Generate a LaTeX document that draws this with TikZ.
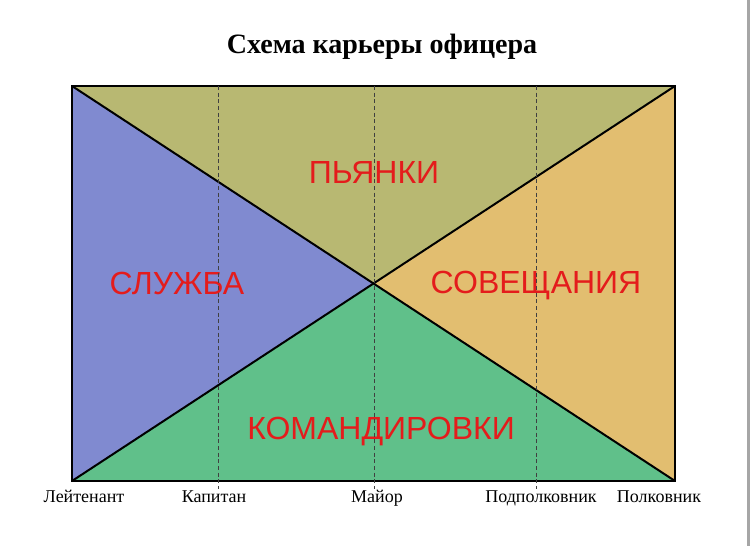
\documentclass[tikz,border=0pt]{standalone}
\usepackage{fontspec}
\setmainfont{Liberation Serif}
\newfontfamily\labelfont{Liberation Sans}
\usepackage{tikz}

\definecolor{sluzhba}{RGB}{128,138,208}
\definecolor{pyanki}{RGB}{184,184,114}
\definecolor{soveshch}{RGB}{226,190,112}
\definecolor{komand}{RGB}{96,192,138}
\definecolor{redtext}{RGB}{228,28,28}

\begin{document}
\begin{tikzpicture}[x=0.75pt,y=-0.75pt,
	area/.style={font=\labelfont\fontsize{24}{26}\selectfont,text=redtext,anchor=base,inner sep=0pt},
	rank/.style={font=\fontsize{13.5}{15}\selectfont,anchor=base,inner sep=0pt},
	grid/.style={densely dashed,very thin,black!75}]
	\useasboundingbox (0,0) rectangle (750,546);
	\fill[white] (0,0) rectangle (750,546);
	\fill[black!35] (747,0) rectangle (750,546);
	\coordinate (TL) at (72,86);
	\coordinate (TR) at (675,86);
	\coordinate (BL) at (72,481);
	\coordinate (BR) at (675,481);
	\coordinate (M) at (374,284);
	\fill [sluzhba] (TL) -- (M) -- (BL) -- cycle;
	\fill [pyanki] (TL) -- (TR) -- (M) -- cycle;
	\fill [soveshch] (TR) -- (BR) -- (M) -- cycle;
	\fill [komand] (BL) -- (M) -- (BR) -- cycle;
	\draw [line width=1.5pt] (TL) -- (BR);
	\draw [line width=1.5pt] (BL) -- (TR);
	\draw [line width=1.5pt] (TL) rectangle (BR);
	\node (title) at (382,53) [anchor=base,font=\bfseries\fontsize{21}{23}\selectfont] {Схема карьеры офицера};
	\node [area] (P) at (374,183) {ПЬЯНКИ};
	\node [area] (S) at (177,294) {СЛУЖБА};
	\node [area] (C) at (536,293) {СОВЕЩАНИЯ};
	\node [area] (K) at (381,439) {КОМАНДИРОВКИ};
	\coordinate (D1) at (218,86);
	\coordinate (D2) at (374,86);
	\coordinate (D3) at (536,86);
	\coordinate (E1) at (218,489);
	\coordinate (E2) at (374,489);
	\coordinate (E3) at (536,489);
	\draw [grid] (D1) -- (E1);
	\draw [grid] (D2) -- (E2);
	\draw [grid] (D3) -- (E3);
	\node [rank] (lt) at (84,502) {Лейтенант};
	\node [rank] (kap) at (214,502) {Капитан};
	\node [rank] (maj) at (377,502) {Майор};
	\node [rank] (ppk) at (541,502) {Подполковник};
	\node [rank] (pk) at (659,502) {Полковник};
\end{tikzpicture}
\end{document}
